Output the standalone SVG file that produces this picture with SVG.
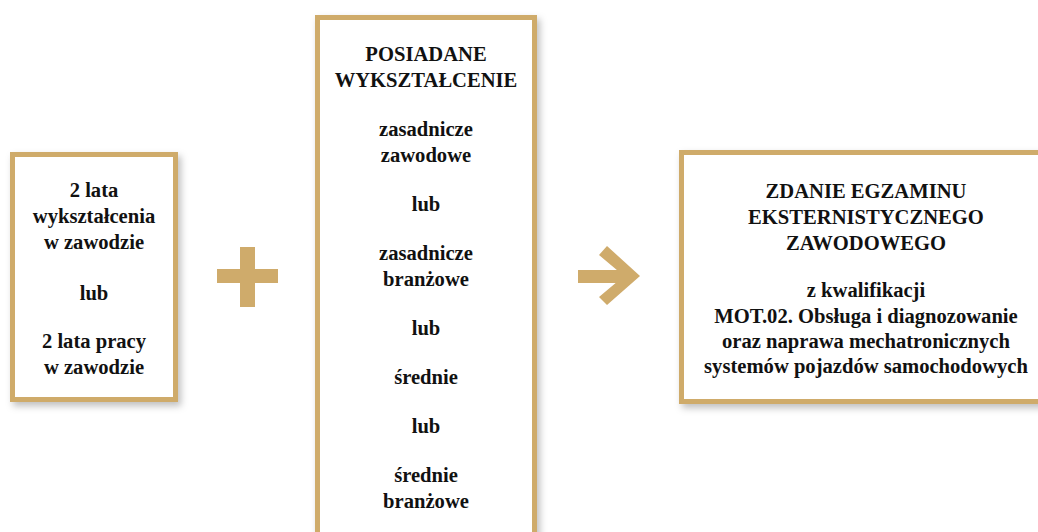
<svg xmlns="http://www.w3.org/2000/svg" width="1038" height="532" viewBox="0 0 1038 532">
<defs>
<filter id="sh" x="-10%" y="-10%" width="130%" height="130%">
<feDropShadow dx="3" dy="4" stdDeviation="3.5" flood-color="#000" flood-opacity="0.25"/>
</filter>
<style>
.box{fill:#fff;stroke:#cfab6b;stroke-width:5;filter:url(#sh)}
.t{font-family:"Liberation Serif","Times New Roman",serif;font-weight:bold;font-size:20.6px;fill:#111;text-anchor:middle}
.gold{fill:#cfab6b}
</style>
</defs>
<rect width="1038" height="532" fill="#fff"/>
<g id="node-experience">
<rect class="box" x="12.5" y="154.5" width="163" height="245"/>
<text class="t" x="94" y="197">2 lata</text>
<text class="t" x="94" y="223">wykształcenia</text>
<text class="t" x="94" y="249">w zawodzie</text>
<text class="t" x="94" y="300">lub</text>
<text class="t" x="94" y="348">2 lata pracy</text>
<text class="t" x="94" y="374">w zawodzie</text>
</g>
<g id="node-education">
<rect class="box" x="317.5" y="17.5" width="217" height="540"/>
<text class="t" x="426" y="61">POSIADANE</text>
<text class="t" x="426" y="87">WYKSZTAŁCENIE</text>
<text class="t" x="426" y="136">zasadnicze</text>
<text class="t" x="426" y="162">zawodowe</text>
<text class="t" x="426" y="211">lub</text>
<text class="t" x="426" y="260">zasadnicze</text>
<text class="t" x="426" y="286">branżowe</text>
<text class="t" x="426" y="335">lub</text>
<text class="t" x="426" y="384">średnie</text>
<text class="t" x="426" y="433">lub</text>
<text class="t" x="426" y="482">średnie</text>
<text class="t" x="426" y="508">branżowe</text>
</g>
<g id="node-exam">
<rect class="box" x="681.5" y="152.5" width="400" height="249"/>
<text class="t" x="866" y="198">ZDANIE EGZAMINU</text>
<text class="t" x="866" y="224">EKSTERNISTYCZNEGO</text>
<text class="t" x="866" y="250">ZAWODOWEGO</text>
<text class="t" x="866" y="297">z kwalifikacji</text>
<text class="t" x="866" y="323">MOT.02. Obsługa i diagnozowanie</text>
<text class="t" x="866" y="348">oraz naprawa mechatronicznych</text>
<text class="t" x="866" y="373">systemów pojazdów samochodowych</text>
</g>
<g id="connectors">
<g id="plus" class="gold">
<rect x="240" y="247" width="15" height="60"/>
<rect x="217" y="269" width="61" height="14"/>
</g>
<g id="arrow" class="gold">
<rect x="578" y="270" width="50" height="13"/>
<polygon points="599,255 607,246 640,276 607,305 599,297 624,276"/>
</g>
</g>
</svg>
